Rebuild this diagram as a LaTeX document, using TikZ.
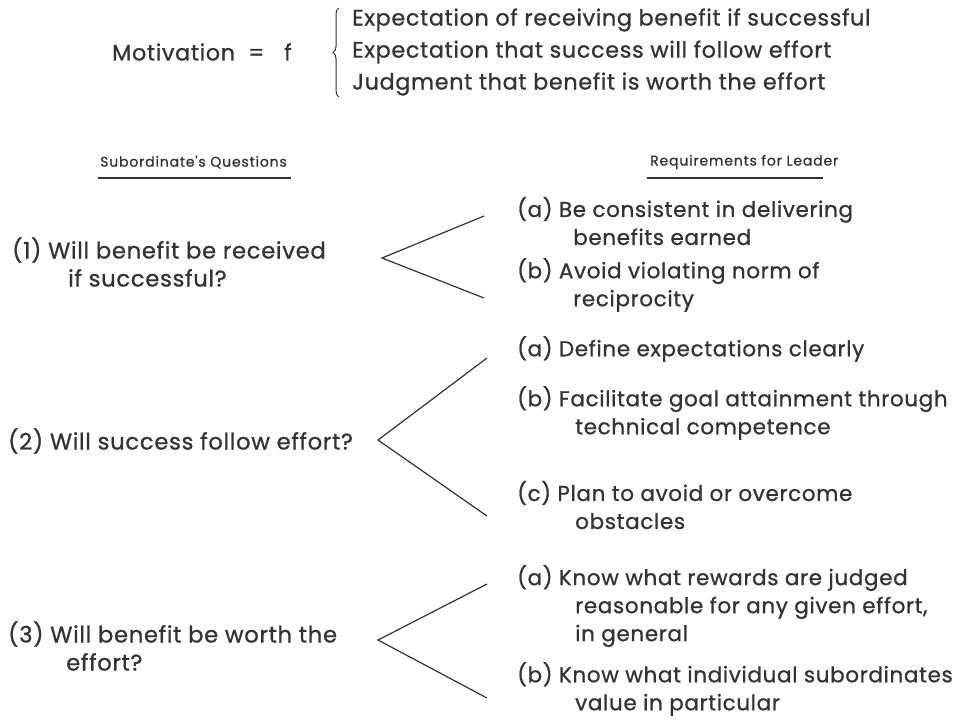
\documentclass[tikz,border=0pt]{standalone}
\usepackage{fontspec}
\setmainfont{Poppins}[LetterSpace=3,FakeBold=0.9]
\newfontfamily\headfont{Poppins}[LetterSpace=6,FakeBold=0.9]
\usetikzlibrary{decorations.pathreplacing}
\begin{document}
\begin{tikzpicture}[x=1pt,y=-1pt,
  txt/.style={anchor=west,inner sep=0pt,font=\fontsize{21.5}{28}\selectfont,align=left,text=black!80},
  qtxt/.style={txt,font=\fontsize{22.7}{28}\selectfont},
  ttxt/.style={txt,font=\fontsize{22.3}{28}\selectfont},
  head/.style={anchor=west,inner sep=0pt,font=\headfont\fontsize{14}{16}\selectfont,text=black!80},
  chev/.style={line width=1.2pt,black!80},
  rule/.style={line width=1.4pt,black!80}]
\useasboundingbox (0,0) rectangle (963,724);
% top formula
\node[ttxt] (mot) at (112,52) {Motivation\ \ = \ \ f};
\node[ttxt] (e1) at (352,20) {Expectation of receiving benefit if successful};
\node[ttxt] (e2) at (352,52) {Expectation that success will follow effort};
\node[ttxt] (e3) at (352,84) {Judgment that benefit is worth the effort};
\draw[line width=1pt,black!80,decorate,decoration={brace,amplitude=6pt,mirror}] (339,8) -- (339,97);
% headers
\node[head] (hq) at (100,162) {Subordinate's Questions};
\node[head] (hr) at (650,162) {Requirements for Leader};
\draw[rule] (98,178) -- (291,178);
\draw[rule] (647,178) -- (823,178);
% Q1
\node[qtxt] (q1) at (12,262) {(1) Will benefit be received\\\hspace{56pt}if successful?};
\coordinate (a1) at (382,258);
\coordinate (u1) at (484,216);
\coordinate (l1) at (484,298);
\draw[chev] (u1) -- (a1) -- (l1);
\node[txt] (q1a) at (517,221) {(a) Be consistent in delivering\\\hspace{56pt}benefits earned};
\node[txt] (q1b) at (517,285) {(b) Avoid violating norm of\\\hspace{56pt}reciprocity};
% Q2
\node[qtxt] (q2) at (8,441) {(2) Will success follow effort?};
\coordinate (a2) at (378,440);
\coordinate (u2) at (487,358);
\coordinate (l2) at (487,516);
\draw[chev] (u2) -- (a2) -- (l2);
\node[txt] (q2a) at (517,349) {(a) Define expectations clearly};
\node[txt] (q2b) at (517,413) {(b) Facilitate goal attainment through\\\hspace{58pt}technical competence};
\node[txt] (q2c) at (517,505) {(c) Plan to avoid or overcome\\\hspace{58pt}obstacles};
% Q3
\node[qtxt] (q3) at (8,646) {(3) Will benefit be worth the\\\hspace{58pt}effort?};
\coordinate (a3) at (378,640);
\coordinate (u3) at (487,584);
\coordinate (l3) at (487,698);
\draw[chev] (u3) -- (a3) -- (l3);
\node[txt] (q3a) at (517,606) {(a) Know what rewards are judged\\\hspace{58pt}reasonable for any given effort,\\\hspace{58pt}in general};
\node[txt] (q3b) at (517,689) {(b) Know what individual subordinates\\\hspace{58pt}value in particular};
\end{tikzpicture}
\end{document}
